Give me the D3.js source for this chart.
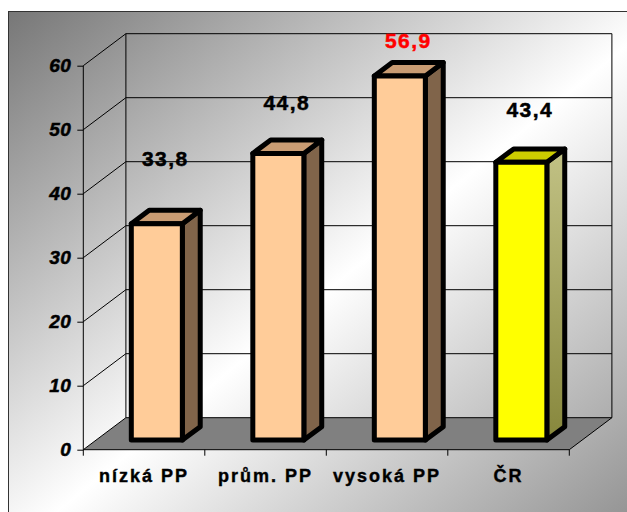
<!DOCTYPE html>
<html>
<head>
<meta charset="utf-8">
<script src="https://cdn.jsdelivr.net/npm/d3@7"></script>
<style>
  body { margin: 0; background: #fff; }
  text { font-family: "Liberation Sans", Arial, sans-serif; font-weight: bold; }
</style>
</head>
<body>
<div id="graphic"></div>
<script>
// data
var categories = ["nízká PP", "prům. PP", "vysoká PP", "ČR"];
var values = [33.8, 44.8, 56.9, 43.4];
var labels = ["33,8", "44,8", "56,9", "43,4"];
var yTicks = [0, 10, 20, 30, 40, 50, 60];

var W = 627, H = 512;
// depth of the 3d box (screen offset of back wall)
var DX = 42.6, DY = 32;
// bars sit between these depth fractions
var z0 = 0.3, z1 = 0.72;

var svg = d3.select("#graphic").append("svg")
    .attr("width", W)
    .attr("height", H);

var defs = svg.append("defs");
var bg = defs.append("linearGradient").attr("id", "bg")
    .attr("x1", 0).attr("y1", 0).attr("x2", 1).attr("y2", 1);
bg.append("stop").attr("offset", 0).attr("stop-color", "#777777");
bg.append("stop").attr("offset", 0.5).attr("stop-color", "#ffffff");
bg.append("stop").attr("offset", 1).attr("stop-color", "#858585");

var olive = defs.append("linearGradient").attr("id", "olive")
    .attr("x1", 0).attr("y1", 0).attr("x2", 0).attr("y2", 1);
olive.append("stop").attr("offset", 0).attr("stop-color", "#c2c285");
olive.append("stop").attr("offset", 1).attr("stop-color", "#87873c");

// background panel
svg.append("rect")
    .attr("x", 8.5).attr("y", 11.5)
    .attr("width", 660).attr("height", 540)
    .style("fill", "url(#bg)")
    .style("stroke", "#333")
    .style("stroke-width", 1);

// scales
var x = d3.scaleBand().domain(categories).range([83.3, 569.3]).padding(0);
var y = d3.scaleLinear().domain([0, 60]).range([449.7, 65.7]);
var labelY = d3.scaleLinear().domain([0, 60]).range([338, 32]);

function p(px, v, z) {
  return [px + z * DX, y(v) - z * DY];
}
var line = d3.line();

var x0 = x.range()[0], x1 = x.range()[1];

// floor
svg.append("path")
    .attr("d", line([p(x0, 0, 0), p(x1, 0, 0), p(x1, 0, 1), p(x0, 0, 1)]) + "Z")
    .style("fill", "#808080")
    .style("stroke", "none");

var grid = svg.append("g").style("stroke", "#000").style("stroke-width", 1).style("fill", "none");

// back wall gridlines and side wall diagonals
yTicks.forEach(function (t) {
  grid.append("path").attr("d", line([p(x0, t, 1), p(x1, t, 1)]));
  grid.append("path").attr("d", line([p(x0, t, 0), p(x0, t, 1)]));
});
// wall edges
grid.append("path").attr("d", line([p(x0, 0, 1), p(x0, 60, 1)]));
grid.append("path").attr("d", line([p(x1, 0, 1), p(x1, 60, 1)]));
grid.append("path").attr("d", line([p(x1, 0, 0), p(x1, 0, 1)]));

// y axis
svg.append("g")
    .attr("transform", "translate(" + x0 + ",0)")
    .call(d3.axisLeft(y).tickValues(yTicks).tickSize(6).tickPadding(6))
    .call(function (g) {
      g.select(".domain").remove();
      g.selectAll(".tick line").attr("stroke", "#000");
      g.selectAll(".tick text")
          .attr("font-size", 19)
          .style("font-size", "19px")
          .style("font-style", "italic")
          .style("font-family", "'Liberation Sans', Arial, sans-serif")
          .style("font-weight", "bold")
          .style("letter-spacing", "0.5px")
          .style("stroke", "#000")
          .style("stroke-width", 0.5)
          .attr("fill", "#000");
    });
svg.append("line")
    .attr("x1", x0).attr("x2", x0)
    .attr("y1", y(0)).attr("y2", y(60))
    .style("stroke", "#000");

// x axis
svg.append("g")
    .attr("transform", "translate(0," + y(0) + ")")
    .call(d3.axisBottom(x).tickSize(0).tickPadding(0).tickFormat(""))
    .call(function (g) {
      g.select(".domain").attr("stroke", "#000").attr("d", "M" + x0 + ",0H" + x1);
    });
var boundaries = categories.map(function (c) { return x(c); }).concat([x1]);
svg.selectAll("line.xtick")
    .data(boundaries)
  .enter().append("line")
    .attr("class", "xtick")
    .attr("x1", function (d) { return d; })
    .attr("x2", function (d) { return d; })
    .attr("y1", y(0))
    .attr("y2", y(0) + 6)
    .style("stroke", "#000");

svg.selectAll("text.cat")
    .data(categories)
  .enter().append("text")
    .attr("class", "cat")
    .attr("x", function (d) { return x(d) + x.bandwidth() / 2; })
    .attr("y", 482)
    .attr("text-anchor", "middle")
    .style("font-size", "18px")
    .style("letter-spacing", "2px")
    .style("fill", "#000")
    .style("stroke", "#000")
    .style("stroke-width", 0.4)
    .text(function (d) { return d; });

// bars
var bw = x.bandwidth() * 0.42;
var maxV = d3.max(values);

var bars = svg.selectAll("g.bar")
    .data(categories)
  .enter().append("g")
    .attr("class", "bar")
    .style("stroke", "#000")
    .style("stroke-width", 5)
    .style("stroke-linejoin", "round");

bars.each(function (c, i) {
  var g = d3.select(this);
  var v = values[i];
  var xl = x(c) + (x.bandwidth() - bw) / 2, xr = xl + bw;
  var yellow = c === "ČR";
  var front = yellow ? "#ffff00" : "#ffcc99";
  var top = yellow ? "#cccc00" : "#c99c73";
  var side = yellow ? "url(#olive)" : "#80644a";

  g.append("path")
      .attr("d", line([p(xr, 0, z0), p(xr, 0, z1), p(xr, v, z1), p(xr, v, z0)]) + "Z")
      .style("fill", side);
  g.append("path")
      .attr("d", line([p(xl, v, z0), p(xr, v, z0), p(xr, v, z1), p(xl, v, z1)]) + "Z")
      .style("fill", top);
  g.append("path")
      .attr("d", line([p(xl, 0, z0), p(xr, 0, z0), p(xr, v, z0), p(xl, v, z0)]) + "Z")
      .style("fill", front);
});

// value labels
svg.selectAll("text.val")
    .data(values)
  .enter().append("text")
    .attr("class", "val")
    .attr("x", function (d, i) { return x(categories[i]) + x.bandwidth() / 2 + 0.5 * DX; })
    .attr("y", function (d) { return labelY(d); })
    .attr("text-anchor", "middle")
    .style("font-size", "21px")
    .style("letter-spacing", "1.5px")
    .style("fill", function (d) { return d === maxV ? "#ff0000" : "#000"; })
    .style("stroke", function (d) { return d === maxV ? "#ff0000" : "#000"; })
    .style("stroke-width", 0.5)
    .text(function (d, i) { return labels[i]; });
</script>
</body>
</html>
